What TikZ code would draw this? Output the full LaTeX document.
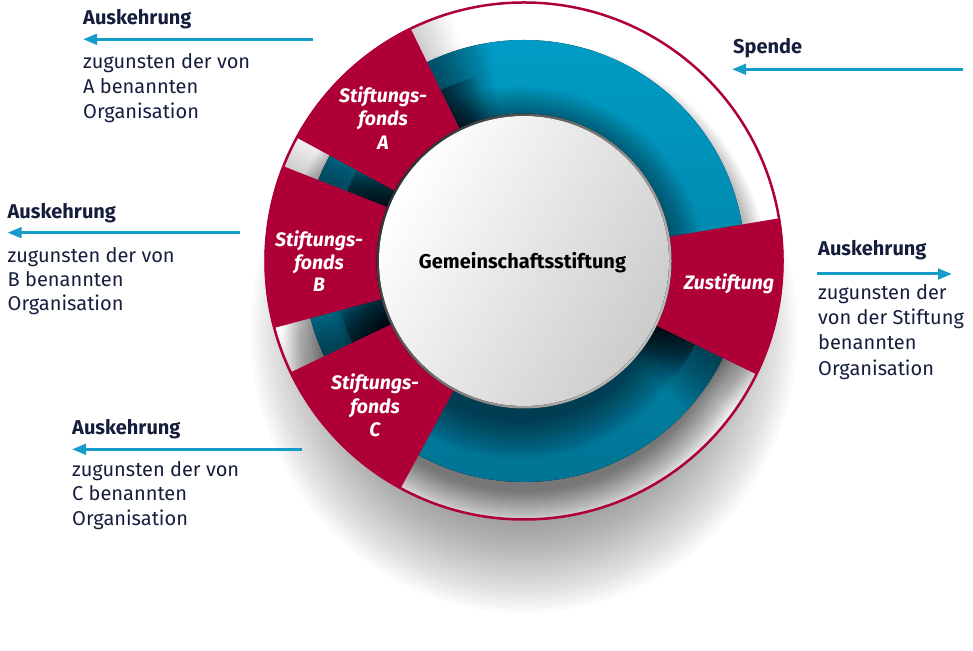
\documentclass[tikz,border=0pt]{standalone}
\usepackage{fontspec}
\setmainfont{Fira Sans}
\usetikzlibrary{arrows.meta}
\definecolor{crimson}{RGB}{174,0,54}
\definecolor{ringblue}{RGB}{0,156,197}
\definecolor{ringblueD}{RGB}{0,116,148}
\definecolor{navy}{RGB}{22,30,62}
\definecolor{arrowblue}{RGB}{22,156,200}
\newcommand\ringsector[5]{\fill[#5] (#1:#3) arc[start angle=#1,end angle=#2,radius=#3] -- (#2:#4) arc[start angle=#2,end angle=#1,radius=#4] -- cycle;}
\tikzset{
  heading/.style={anchor=base west, inner sep=0pt, font=\fontsize{20}{24}\selectfont\bfseries, text=navy},
  bodytext/.style={anchor=base west, inner sep=0pt, font=\fontsize{20}{25}\selectfont, text=navy},
  seclabel/.style={anchor=base, inner sep=0pt, font=\fontsize{19.5}{23}\selectfont\bfseries\itshape, text=white},
  flow/.style={draw=arrowblue, line width=3pt, -{Triangle[length=14pt,width=10.5pt]}},
}
\begin{document}
\begin{tikzpicture}[x=1pt,y=1pt]
\path[use as bounding box] (0,0) rectangle (973,650);
\begin{scope}[shift={(524,389)}]
  % soft drop shadow below the disk
  \foreach \r in {190,194,...,282} \fill[black,opacity=0.018] (0,-70) ellipse[x radius=0.97*\r pt, y radius=\r pt];
  % white outer band
  \fill[white] (0,0) circle[radius=258pt];
  % shadow of the blue ring on the band
  \begin{scope}[even odd rule]
    \clip (0,0) circle[radius=258pt] (0,0) circle[radius=220pt];
    \foreach \r in {206,207,...,246} \fill[black,opacity=0.015] (0,-24) circle[radius=\r pt];
  \end{scope}
  % blue ring
  \fill[top color=ringblue, bottom color=ringblueD] (0,0) circle[radius=221pt];
  % shadows on the blue ring
  \begin{scope}
    \clip (0,0) circle[radius=221pt];
    \foreach \r in {148,149.5,...,188} \fill[black,opacity=0.02] (-5,-12) circle[radius=\r pt];
    \foreach \a in {116,158.5,205.5,-26}{
      \foreach \k in {1,...,24}{
        \ringsector{\a-0.7*\k}{\a}{140pt}{221pt}{black,opacity=0.025}
        \ringsector{\a-0.5*\k}{\a}{140pt}{190pt}{black,opacity=0.02}
      }
    }
  \end{scope}
  % shadows of the sectors on the white band
  \begin{scope}[even odd rule]
    \clip (0,0) circle[radius=258pt] (0,0) circle[radius=221pt];
    \foreach \a in {116,158.5,205.5,-26}{
      \foreach \k in {1,...,16}{
        \ringsector{\a-0.6*\k}{\a}{221pt}{258pt}{black,opacity=0.013}
      }
    }
  \end{scope}
  % thin outer line
  \draw[crimson, line width=2.5pt] (0,0) circle[radius=258.5pt];
  % red sectors
  \ringsector{116}{151.5}{259.5pt}{140pt}{crimson}
  \ringsector{158.5}{195}{259.5pt}{140pt}{crimson}
  \ringsector{205.5}{241.5}{259.5pt}{140pt}{crimson}
  \ringsector{-26}{9.5}{259.5pt}{140pt}{crimson}
  % central disk
  \fill[top color=black!25, bottom color=black!80, shading angle=-120] (0,0) circle[radius=147.5pt];
  \fill[top color=white, bottom color=black!20, shading angle=60] (0,0) circle[radius=145pt];
\end{scope}

% centre and sector labels
\node[anchor=base, inner sep=0pt, font=\fontsize{20}{24}\selectfont\bfseries, text=black] (gem) at (522.5,381.7) {Gemeinschaftsstiftung};
\node[seclabel] (a1) at (383,547) {Stiftungs-};
\node[seclabel] (a2) at (383,524) {fonds};
\node[seclabel] (a3) at (383,500.5) {A};
\node[seclabel] (b1) at (319,403.3) {Stiftungs-};
\node[seclabel] (b2) at (319,380.7) {fonds};
\node[seclabel] (b3) at (319,358.3) {B};
\node[seclabel] (c1) at (375,260) {Stiftungs-};
\node[seclabel] (c2) at (375,236.7) {fonds};
\node[seclabel] (c3) at (375,213.3) {C};
\node[seclabel] (zu) at (729,360) {Zustiftung};

% group A
\node[heading] (ha) at (83,625) {Auskehrung};
\coordinate (aS) at (313,610.7);
\coordinate (aE) at (83,610.7);
\draw[flow] (aS) -- (aE);
\node[bodytext] (ta1) at (83,581.7) {zugunsten der von};
\node[bodytext] (ta2) at (83,556.7) {A benannten};
\node[bodytext] (ta3) at (83,531.5) {Organisation};

% group B
\node[heading] (hb) at (7.5,431.7) {Auskehrung};
\coordinate (bS) at (240,417.3);
\coordinate (bE) at (7.5,417.3);
\draw[flow] (bS) -- (bE);
\node[bodytext] (tb1) at (7.5,387.3) {zugunsten der von};
\node[bodytext] (tb2) at (7.5,363.3) {B benannten};
\node[bodytext] (tb3) at (7.5,339.3) {Organisation};

% group C
\node[heading] (hc) at (72,215) {Auskehrung};
\coordinate (cS) at (302,200.7);
\coordinate (cE) at (72,200.7);
\draw[flow] (cS) -- (cE);
\node[bodytext] (tc1) at (72,173.5) {zugunsten der von};
\node[bodytext] (tc2) at (72,149) {C benannten};
\node[bodytext] (tc3) at (72,124.5) {Organisation};

% Spende
\node[heading] (hs) at (733,596.7) {Spende};
\coordinate (sS) at (963,580.7);
\coordinate (sE) at (732,580.7);
\draw[flow] (sS) -- (sE);

% right Auskehrung
\node[heading] (hr) at (818,394) {Auskehrung};
\coordinate (rS) at (817,376);
\coordinate (rE) at (952,376);
\draw[flow] (rS) -- (rE);
\node[bodytext] (tr1) at (818,350) {zugunsten der};
\node[bodytext] (tr2) at (818,325) {von der Stiftung};
\node[bodytext] (tr3) at (818,300) {benannten};
\node[bodytext] (tr4) at (818,274.5) {Organisation};
\end{tikzpicture}
\end{document}
